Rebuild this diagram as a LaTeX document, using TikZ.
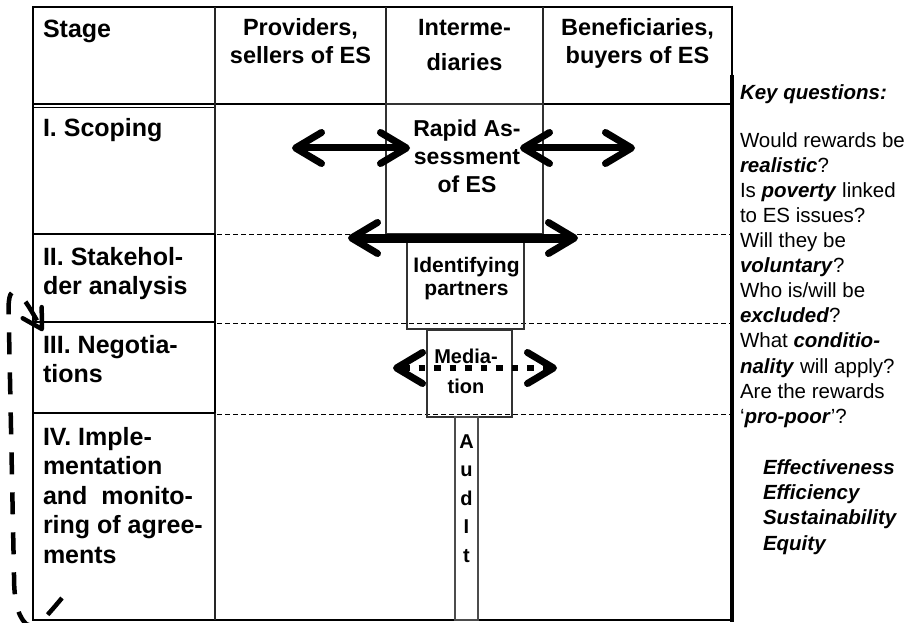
\documentclass[tikz,border=0pt]{standalone}
\usepackage{fontspec}
\setmainfont{Liberation Sans}
\usetikzlibrary{arrows.meta}
\newcommand{\bfit}[1]{\textbf{\textit{#1}}}
\begin{document}
\begin{tikzpicture}[x=1pt,y=-1pt,
  txt/.style={inner sep=0pt, outer sep=0pt},
  hdr/.style={txt, anchor=north, align=center, font=\bfseries\fontsize{23.5}{28}\selectfont},
  stg/.style={txt, anchor=north west, align=left, font=\bfseries\fontsize{25}{29.5}\selectfont},
  cell/.style={txt, anchor=north, align=center},
  thinline/.style={line width=1.1pt, draw=black!85},
  boxline/.style={line width=1.1pt, draw=black!80},
  rowdash/.style={line width=0.9pt, dash pattern=on 5pt off 3pt},
  barbs/.style={{Straight Barb[length=26pt,width=31pt,line width=7pt,round]}-{Straight Barb[length=26pt,width=31pt,line width=7pt,round]}},
]
\useasboundingbox (0,0) rectangle (908,623);

% row separators (dashed)
\draw[rowdash] (217,234) -- (730,234);
\draw[rowdash] (217,323) -- (730,323);
\draw[rowdash] (217,414) -- (730,414);

% frame
\draw[line width=2.5pt, line join=miter] (732,7) -- (33,7) -- (33,620) -- (734,620);
\draw[line width=2pt] (732,6) -- (732,75);
\draw[line width=4pt] (732,75) -- (732,622);

% header
\draw[line width=1.5pt] (33,104) -- (732,104);
\draw[line width=0.8pt] (33,107) -- (215,107);
\draw[thinline] (215,7) -- (215,104);
\draw[thinline] (386,7) -- (386,104);
\draw[thinline] (543,7) -- (543,104);

% stage column
\draw[thinline] (215,104) -- (215,620);
\draw[line width=2.2pt] (215,234) -- (215,413);
\draw[line width=1.8pt] (33,234) -- (215,234);
\draw[line width=1.8pt] (33,322) -- (215,322);
\draw[line width=1.2pt] (33,413) -- (215,413);

% activity boxes
\draw[boxline] (386,104) rectangle (543,234);
\draw[boxline] (407,242) rectangle (524,329);
\draw[boxline] (427,330) rectangle (512,417);
\draw[boxline, draw=black!70] (455,417) rectangle (478,620);

% header texts
\node[stg] (hstage) at (43,20) {Stage};
\node[hdr] (hprov) at (300.5,18.2) {Providers,\\sellers of ES};
\node[hdr, font=\bfseries\fontsize{23.5}{35}\selectfont] (hint) at (464.5,19.2) {Interme-\\diaries};
\node[hdr] (hben) at (637.5,18.2) {Beneficiaries,\\buyers of ES};

% stage texts
\node[stg] (s1) at (43,118) {I. Scoping};
\node[stg] (s2) at (43,247) {II. Stakehol-\\der analysis};
\node[stg] (s3) at (43,335) {III. Negotia-\\tions};
\node[stg] (s4) at (43,427) {IV. Imple-\\mentation\\and\ \ monito-\\ring of agree-\\ments};

% activity texts
\node[cell, font=\bfseries\fontsize{23}{28}\selectfont] (rapid) at (467,119.5) {Rapid As-\\sessment\\of ES};
\node[cell, font=\bfseries\fontsize{21}{23.5}\selectfont] (ident) at (466.5,257) {Identifying\\partners};
\node[cell, font=\bfseries\fontsize{20}{30}\selectfont] (media) at (466,348.7) {Media-\\tion};
\node[cell, font=\bfseries\fontsize{20}{28.5}\selectfont] (audit) at (466.5,434.7) {A\\u\\d\\I\\t};

% arrows
\coordinate (a1l) at (292,148);
\coordinate (a1r) at (410,148);
\coordinate (a2l) at (520,148);
\coordinate (a2r) at (635,148);
\coordinate (b1l) at (348,238);
\coordinate (b1r) at (578,238);
\coordinate (c1l) at (393,368);
\coordinate (c1r) at (557,368);
\draw[barbs, line width=7pt] (a1l) -- (a1r);
\draw[barbs, line width=7pt] (a2l) -- (a2r);
\draw[barbs, line width=9pt] (b1l) -- (b1r);
\draw[barbs, line width=6.5pt, dash pattern=on 6.5pt off 9pt, dash phase=-3pt] (c1l) -- (c1r);

% key questions
\node[txt, anchor=north west, font=\bfseries\itshape\fontsize{20.5}{25}\selectfont] (keyq) at (740,84.3) {Key questions:};
\node[txt, anchor=north west, align=left, font=\fontsize{20.5}{25.1}\selectfont] (qs) at (740,132.3)
  {Would rewards be\\\bfit{realistic}?\\Is \bfit{poverty} linked\\to ES issues?\\Will they be\\\bfit{voluntary}?\\Who is/will be\\\bfit{excluded}?\\What \bfit{conditio-}\\\bfit{nality} will apply?\\Are the rewards\\‘\bfit{pro-poor}’?};
\node[txt, anchor=north west, align=left, font=\bfseries\itshape\fontsize{20.5}{25.3}\selectfont] (crit) at (763,459.3)
  {Effectiveness\\Efficiency\\Sustainability\\Equity};

% dashed loop pointing to stage III
\coordinate (loopstart) at (62,598);
\coordinate (loopend) at (43,331);
\draw[line width=4.5pt, dash pattern=on 22pt off 18pt, -{Straight Barb[length=19pt,width=22pt,line width=4.5pt,round]}]
  (loopstart) .. controls (45,618) and (36,630) .. (26,624)
  .. controls (16,614) and (14,595) .. (14,575)
  -- (9,330)
  .. controls (8,305) and (8,292) .. (14,292)
  .. controls (22,292) and (33,314) .. (loopend);
\end{tikzpicture}
\end{document}
